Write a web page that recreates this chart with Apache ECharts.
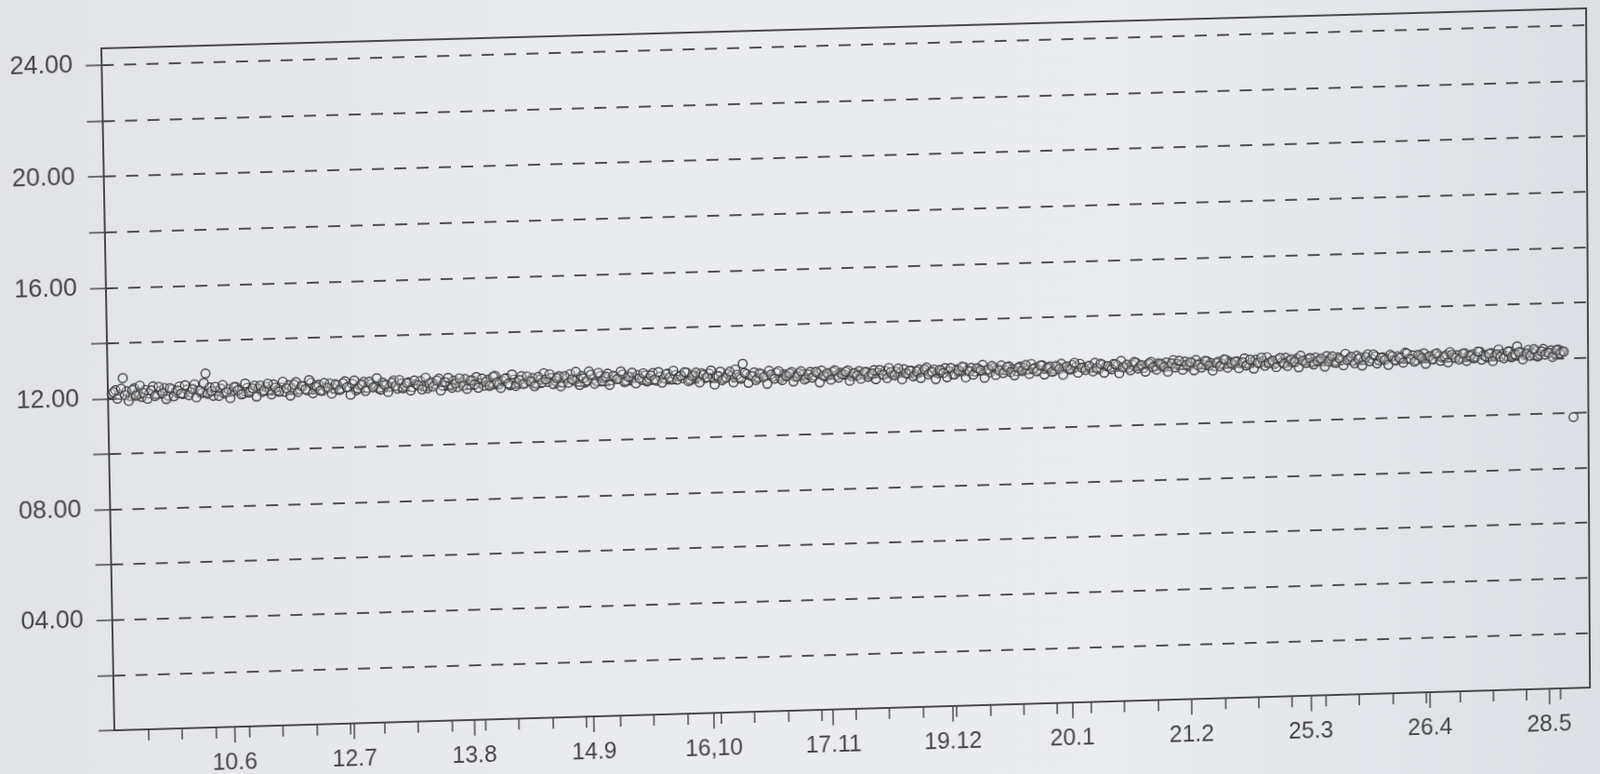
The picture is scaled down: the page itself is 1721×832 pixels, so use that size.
<!DOCTYPE html>
<html>
<head>
<meta charset="utf-8">
<script src="https://cdn.jsdelivr.net/npm/echarts@6/dist/echarts.min.js"></script>
<style>
  html, body { margin: 0; padding: 0; width: 1721px; height: 832px; overflow: hidden;
    background: linear-gradient(90deg, #e1e3e8 0%, #e9ebef 35%, #eaecf0 70%, #dcdfe4 100%); }
  #chart { position: absolute; left: 0; top: 0; width: 1721px; height: 880px; transform-origin: 0 0; }
</style>
</head>
<body>
<div id="chart"></div>
<script>
// X axis: day index from the start of the record; labels are dates (day.month)
const dateLabels = ['10.6', '12.7', '13.8', '14.9', '16,10', '17.11', '19.12', '20.1', '21.2', '25.3', '26.4', '28.5'];
const labelDays = [32, 64, 96, 128, 160, 192, 224, 256, 288, 320, 352, 384];
const minorTickDays = [9, 18, 27, 36, 45, 54, 63, 72, 81, 90, 99, 108, 117, 126, 135, 144, 153, 162, 171, 180,
  189, 198, 207, 216, 225, 234, 243, 252, 261, 270, 279, 288, 297, 306, 315, 324, 333, 342, 351, 360, 369, 378, 387];
const xMax = 395;

// Y axis
const yTickValues = [0, 2, 4, 6, 8, 10, 12, 14, 16, 18, 20, 22, 24];
const yLabelValues = [4, 8, 12, 16, 20, 24];
const yMax = 24.6;

// First daily readings (day 1 .. 388)
const firstReadings = [
  12.17, 12.30, 12.13, 12.73, 12.25, 12.07, 12.35, 12.20, 12.03, 12.28, 12.15, 12.40, 12.10, 12.23, 12.33, 12.05, 12.27, 12.19, 12.37, 12.09,
  12.25, 12.15, 12.43, 12.21, 12.11, 12.81, 12.31, 12.00, 12.17, 12.25, 12.07, 12.23, 12.13, 12.29, 12.19, 12.05, 12.25, 12.15, 12.33, 12.21,
  12.09, 12.27, 12.17, 12.35, 12.13, 12.23, 12.07, 12.31, 12.20, 12.41, 12.15, 12.25, 12.10, 12.37, 12.21, 12.29, 12.07, 12.19, 12.33, 12.15,
  12.25, 12.11, 12.39, 12.17, 12.29, 12.05, 12.23, 12.35, 12.13, 12.27, 12.19, 12.09, 12.31, 12.21, 12.15, 12.37, 12.07, 12.25, 12.17, 12.29,
  12.11, 12.21, 12.33, 12.15, 12.05, 12.27, 12.19, 12.39, 12.13, 12.25, 12.17, 12.31, 12.07, 12.23, 12.35, 12.15, 12.29, 12.41, 12.19, 12.09,
  12.30, 12.20, 12.44, 12.12, 12.24, 12.34, 12.08, 12.28, 12.18, 12.40, 12.14, 12.22, 12.32, 12.10, 12.26, 12.48, 12.16, 12.30, 12.20, 12.36,
  12.12, 12.28, 12.42, 12.18, 12.26, 12.34, 12.10, 12.50, 12.22, 12.14, 12.32, 12.24, 12.40, 12.16, 12.28, 12.20, 12.36, 12.12, 12.26, 12.22,
  12.32, 12.14, 12.30, 12.20, 12.38, 12.10, 12.24, 12.18, 12.34, 12.12, 12.28, 12.22, 12.16, 12.36, 12.08, 12.26, 12.20, 12.32, 12.14, 12.30,
  12.16, 12.22, 12.36, 12.10, 12.26, 12.20, 12.42, 12.14, 12.62, 12.24, 12.18, 12.30, 12.08, 12.22, 12.16, 12.34, 12.12, 12.26, 12.06, 12.20,
  12.14, 12.28, 12.10, 12.22, 12.18, 12.04, 12.26, 12.12, 12.20, 12.30, 12.08, 12.16, 12.24, 12.10, 12.20, 12.14, 12.28, 12.06, 12.18, 12.24,
  12.12, 12.20, 12.08, 12.26, 12.16, 12.10, 12.22, 12.32, 12.06, 12.18, 12.14, 12.26, 12.10, 12.20, 12.04, 12.24, 12.16, 12.30, 12.12, 12.22,
  12.08, 12.18, 12.26, 12.14, 12.02, 12.20, 12.12, 12.28, 12.16, 12.24, 12.10, 12.20, 12.34, 12.14, 12.06, 12.22, 12.18, 12.30, 12.12, 12.26,
  12.16, 12.08, 12.24, 12.20, 12.12, 12.32, 12.18, 12.10, 12.26, 12.14, 12.22, 12.04, 12.20, 12.30, 12.16, 12.10, 12.24, 12.18, 12.28, 12.12,
  12.18, 12.12, 12.30, 12.06, 12.22, 12.16, 12.10, 12.24, 12.18, 12.34, 12.12, 12.08, 12.20, 12.26, 12.14, 12.06, 12.18, 12.28, 12.12, 12.22,
  12.16, 12.24, 12.10, 12.32, 12.18, 12.14, 12.26, 12.08, 12.20, 12.30, 12.16, 12.12, 12.24, 12.18, 12.06, 12.22, 12.14, 12.28, 12.20, 12.10,
  12.21, 12.13, 12.31, 12.09, 12.17, 12.25, 12.11, 12.19, 12.33, 12.15, 12.07, 12.23, 12.13, 12.29, 12.19, 12.11, 12.25, 12.35, 12.15, 12.21,
  12.09, 12.27, 12.17, 12.13, 12.31, 12.21, 12.07, 12.25, 12.15, 12.37, 12.19, 12.11, 12.29, 12.23, 12.13, 12.33, 12.17, 12.25, 12.09, 12.21,
  12.15, 12.29, 12.11, 12.23, 12.19, 12.35, 12.13, 12.25, 12.07, 12.21, 12.31, 12.15, 12.09, 12.27, 12.19, 12.13, 12.23, 12.33, 12.15, 12.21,
  12.11, 12.27, 12.17, 12.23, 12.13, 12.31, 12.19, 12.09, 12.25, 12.15, 12.37, 12.21, 12.13, 12.29, 12.19, 12.47, 12.25, 12.15, 12.33, 12.21,
  12.27, 12.17, 12.35, 12.23, 12.29, 12.19, 12.31, 12.25
];
// Second daily readings (half a day later, day 1.5 .. 388.5)
const secondReadings = [
  12.23, 11.99, 12.35, 12.11, 11.90, 12.29, 12.08, 12.44, 12.17, 11.96, 12.26, 12.05, 12.38, 12.14, 11.93, 12.32, 12.02, 12.23, 12.11, 12.41,
  12.05, 12.26, 11.96, 12.20, 12.47, 12.08, 12.17, 12.32, 11.99, 12.38, 12.11, 11.90, 12.29, 12.17, 12.02, 12.41, 12.08, 12.23, 11.93, 12.32,
  12.14, 12.38, 11.99, 12.23, 12.08, 12.44, 12.20, 11.93, 12.32, 12.05, 12.26, 12.14, 12.47, 11.99, 12.23, 12.08, 12.35, 12.17, 11.96, 12.29,
  12.08, 12.32, 12.17, 11.90, 12.41, 12.11, 12.26, 12.02, 12.35, 12.14, 12.47, 12.05, 12.23, 11.96, 12.29, 12.17, 12.38, 12.08, 12.26, 11.99,
  12.35, 12.17, 12.02, 12.44, 12.23, 12.11, 12.32, 11.96, 12.26, 12.41, 12.05, 12.20, 12.38, 12.11, 11.99, 12.29, 12.14, 12.02, 12.35, 12.23,
  12.08, 12.41, 12.20, 11.99, 12.32, 12.14, 12.47, 12.05, 12.26, 12.11, 12.38, 12.20, 12.02, 12.35, 12.14, 12.26, 12.44, 12.08, 12.29, 11.99,
  12.35, 12.11, 12.23, 12.50, 12.02, 12.26, 12.17, 12.38, 12.05, 12.44, 12.14, 12.29, 11.99, 12.32, 12.20, 12.47, 12.08, 12.26, 12.41, 12.02,
  12.20, 12.38, 12.08, 12.29, 12.14, 12.41, 12.02, 12.32, 12.20, 12.44, 12.11, 12.26, 12.38, 12.05, 12.23, 12.35, 11.99, 12.26, 12.17, 12.41,
  11.90, 12.20, 12.05, 12.14, 12.35, 11.96, 12.23, 12.08, 12.29, 11.93, 12.17, 12.02, 12.26, 12.11, 11.87, 12.20, 12.05, 12.32, 11.99, 12.14,
  12.23, 11.93, 12.11, 12.29, 11.99, 12.17, 12.05, 12.26, 11.87, 12.11, 12.20, 11.96, 12.29, 12.02, 12.14, 12.23, 11.90, 12.17, 12.08, 11.96,
  12.20, 12.02, 12.14, 11.93, 12.26, 12.08, 11.96, 12.17, 12.05, 12.29, 11.90, 12.11, 12.20, 11.99, 12.17, 11.93, 12.23, 12.05, 12.14, 11.87,
  12.20, 12.08, 11.93, 12.26, 12.02, 12.17, 12.29, 11.90, 12.11, 11.99, 12.23, 12.14, 11.87, 12.17, 12.29, 11.96, 12.11, 12.02, 12.23, 12.05,
  11.93, 12.20, 12.08, 12.29, 11.96, 12.14, 12.05, 12.26, 11.93, 12.17, 12.02, 12.23, 12.11, 11.90, 12.20, 12.08, 12.32, 11.96, 12.14, 12.05,
  12.20, 11.99, 12.11, 12.26, 11.93, 12.17, 12.05, 12.23, 11.90, 12.11, 12.20, 11.99, 12.29, 12.05, 12.17, 11.93, 12.23, 12.08, 11.99, 12.20,
  12.08, 11.90, 12.20, 12.05, 12.29, 11.96, 12.14, 12.23, 11.93, 12.11, 12.02, 12.26, 12.08, 11.90, 12.17, 12.05, 12.29, 11.99, 12.14, 12.20,
  11.96, 12.17, 12.05, 12.26, 11.93, 12.14, 12.32, 12.02, 12.11, 12.20, 11.96, 12.29, 12.08, 11.99, 12.23, 12.14, 11.93, 12.17, 12.08, 12.26,
  12.02, 12.14, 12.23, 11.93, 12.11, 12.29, 12.05, 12.20, 11.96, 12.14, 12.26, 12.02, 12.17, 11.93, 12.23, 12.08, 12.32, 11.99, 12.20, 12.11,
  11.93, 12.23, 12.08, 12.17, 11.99, 12.32, 12.11, 12.02, 12.26, 12.14, 11.93, 12.20, 12.08, 12.29, 12.02, 12.17, 11.96, 12.23, 12.11, 12.05,
  12.26, 11.99, 12.17, 12.08, 12.32, 12.02, 12.14, 12.23, 11.96, 12.20, 12.11, 12.05, 12.29, 12.08, 12.17, 12.26, 11.99, 12.20, 12.11, 12.35,
  12.08, 12.26, 12.14, 12.20, 12.05, 12.29, 12.17, 12.23
];
const firstDay = 1;
const secondReadingOffset = 0.5;
// Single late reading
const lateDays = [391];
const lateValues = [9.85];

const ink = '#474747';
const textInk = '#454545';
const font = '"Liberation Sans", Arial, sans-serif';

// --- photo perspective: map the flat plot rectangle onto the photographed one ---
function homography(src, dst) {
  const A = [], b = [];
  for (let i = 0; i < 4; i++) {
    const [x, y] = src[i], [u, v] = dst[i];
    A.push([x, y, 1, 0, 0, 0, -x * u, -y * u]); b.push(u);
    A.push([0, 0, 0, x, y, 1, -x * v, -y * v]); b.push(v);
  }
  const n = 8;
  for (let c = 0; c < n; c++) {
    let p = c;
    for (let r = c + 1; r < n; r++) if (Math.abs(A[r][c]) > Math.abs(A[p][c])) p = r;
    [A[c], A[p]] = [A[p], A[c]]; [b[c], b[p]] = [b[p], b[c]];
    for (let r = 0; r < n; r++) {
      if (r === c) continue;
      const f = A[r][c] / A[c][c];
      for (let k = c; k < n; k++) A[r][k] -= f * A[c][k];
      b[r] -= f * b[c];
    }
  }
  return b.map((v, i) => v / A[i][i]);
}
const G = { left: 109, top: 52, width: 1599, height: 733 };
const srcCorners = [[G.left, G.top], [G.left + G.width, G.top], [G.left, G.top + G.height], [G.left + G.width, G.top + G.height]];
const dstCorners = [[109, 52], [1706, 9], [123, 785], [1710, 739]];
const h = homography(srcCorners, dstCorners);
document.getElementById('chart').style.transform =
  `matrix3d(${h[0]},${h[3]},0,${h[6]},${h[1]},${h[4]},0,${h[7]},0,0,1,0,${h[2]},${h[5]},0,1)`;

const points = [];
firstReadings.forEach((v, i) => points.push([firstDay + i, v]));
secondReadings.forEach((v, i) => points.push([firstDay + i + secondReadingOffset, v]));
lateDays.forEach((d, i) => points.push([d, lateValues[i]]));

const chart = echarts.init(document.getElementById('chart'), null, { renderer: 'canvas' });
chart.setOption({
  animation: false,
  backgroundColor: 'transparent',
  grid: {
    left: G.left, top: G.top, width: G.width, height: G.height,
    outerBoundsMode: 'none', containLabel: false,
    show: true, borderColor: ink, borderWidth: 2, backgroundColor: 'transparent'
  },
  xAxis: [
    {
      type: 'value', position: 'bottom', min: 0, max: xMax, interval: 32,
      axisLine: { show: true, lineStyle: { color: ink, width: 2 } },
      axisTick: { show: true, length: 17, customValues: labelDays, lineStyle: { color: ink, width: 1.5 } },
      axisLabel: {
        show: true, customValues: labelDays, margin: 27, fontSize: 25, color: textInk, fontFamily: font,
        formatter: v => { const k = labelDays.indexOf(v); return k >= 0 ? dateLabels[k] : ''; }
      },
      splitLine: { show: false }
    },
    {
      type: 'value', position: 'bottom', min: 0, max: xMax, interval: 9,
      axisLine: { show: false },
      axisTick: { show: true, length: 12, customValues: minorTickDays, lineStyle: { color: ink, width: 1.5 } },
      axisLabel: { show: false },
      splitLine: { show: false }
    }
  ],
  yAxis: [
    {
      type: 'value', position: 'left', min: 0, max: yMax, interval: 2,
      axisLine: { show: true, lineStyle: { color: ink, width: 2 } },
      axisTick: { show: true, length: 17, customValues: yTickValues, lineStyle: { color: ink, width: 1.5 } },
      axisLabel: {
        show: true, customValues: yLabelValues, margin: 31, fontSize: 27, color: textInk, fontFamily: font,
        formatter: v => (v < 10 ? '0' : '') + v.toFixed(2)
      },
      splitLine: { show: true, lineStyle: { color: '#4e4e4e', width: 2, type: [13, 11] } }
    },
    {
      type: 'value', position: 'left', min: 0, max: yMax, interval: 2,
      axisLine: { show: false },
      axisTick: { show: true, inside: true, length: 9, customValues: yTickValues, lineStyle: { color: ink, width: 1.5 } },
      axisLabel: { show: false },
      splitLine: { show: false }
    }
  ],
  series: [{
    type: 'scatter',
    xAxisIndex: 0, yAxisIndex: 0,
    symbol: 'circle', symbolSize: 9.5,
    itemStyle: { color: 'rgba(235,237,241,0.3)', borderColor: '#3e3e3e', borderWidth: 1.4, opacity: 1 },
    data: points
  }]
});
</script>
</body>
</html>
